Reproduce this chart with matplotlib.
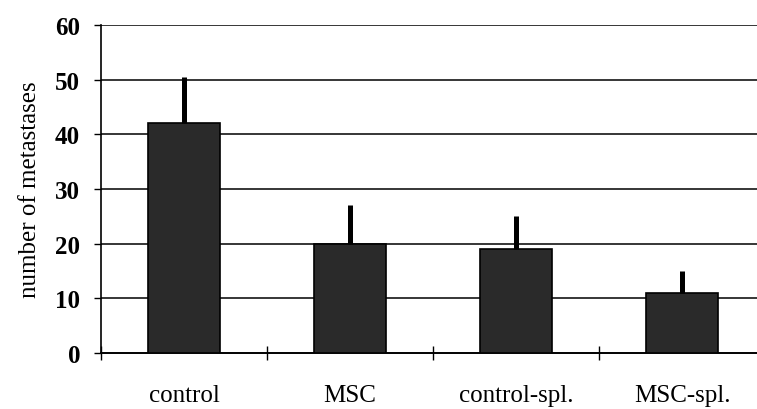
import numpy as np
import matplotlib
matplotlib.use('Agg')
import matplotlib.pyplot as plt

# values
groups = ['control', 'MSC', 'control-spl.', 'MSC-spl.']
metastases = [42, 20, 19, 11]
err_upper = [8.5, 7, 6, 4]
y_ticks = [0, 10, 20, 30, 40, 50, 60]

plt.rcParams['font.family'] = ['Liberation Serif', 'DejaVu Serif']

fig = plt.figure(figsize=(7.57, 4.10), dpi=100)
ax = fig.add_axes([0.1334, 0.1366, 0.8666, 0.80])

x = np.arange(len(groups))
ax.bar(x, metastases, width=0.43, color='#2a2a2a', edgecolor='black',
       linewidth=1.2, zorder=3)
ax.errorbar(x, metastases, yerr=[np.zeros(len(groups)), err_upper],
            fmt='none', ecolor='black', elinewidth=3.6, capsize=0, zorder=4)

ax.set_ylim(0, 60)
ax.set_xlim(-0.5, -0.5 + 656 / 166)
ax.set_yticks(y_ticks)
ax.set_yticklabels([str(v) for v in y_ticks], fontsize=18, fontweight='bold')
for v in y_ticks[1:]:
    ax.axhline(v, color='black', linewidth=1.1, zorder=1)

# category labels centred, ticks on the boundaries
ax.set_xticks(x)
ax.set_xticklabels(groups, fontsize=18)
ax.tick_params(axis='x', length=0, pad=22)
ax.set_xticks(np.arange(-0.5, len(groups) - 0.5, 1.0), minor=True)
ax.tick_params(axis='x', which='minor', direction='inout', length=10, width=1.0)
ax.tick_params(axis='y', direction='out', length=5, width=1.0, pad=10)

ax.set_ylabel('number of metastases', fontsize=18, labelpad=10)

for s in ['top', 'right']:
    ax.spines[s].set_visible(False)
ax.spines['left'].set_linewidth(1.2)
ax.spines['bottom'].set_linewidth(1.4)

fig.savefig('out.png', dpi=100)
